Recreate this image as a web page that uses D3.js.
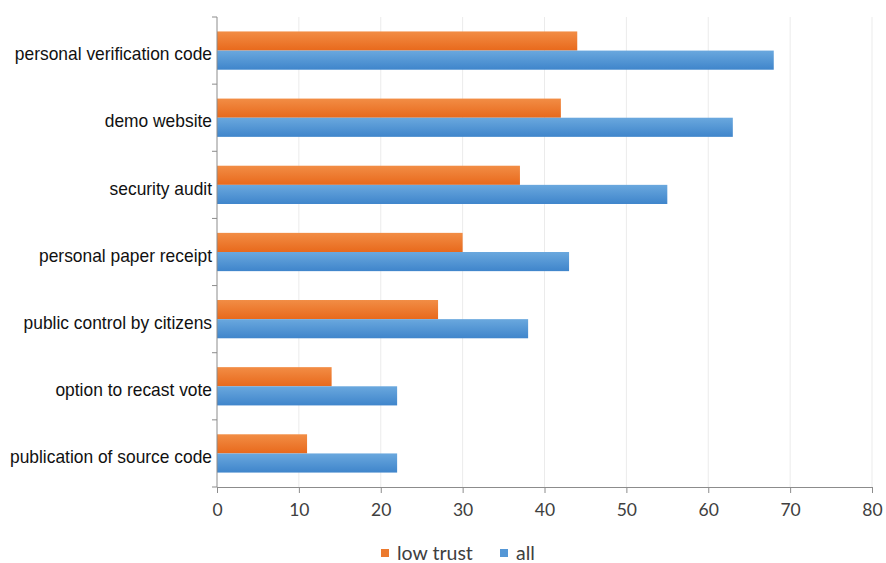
<!DOCTYPE html>
<html>
<head>
<meta charset="utf-8">
<script src="https://cdn.jsdelivr.net/npm/d3@7"></script>
<style>
  html, body { margin: 0; padding: 0; background: #fff; }
  svg { display: block; }
</style>
</head>
<body>
<svg id="chart" width="886" height="563"></svg>
<script>
// Survey measures, listed top to bottom
const categories = [
  "personal verification code",
  "demo website",
  "security audit",
  "personal paper receipt",
  "public control by citizens",
  "option to recast vote",
  "publication of source code"
];
const lowTrust = [44, 42, 37, 30, 27, 14, 11];
const allRespondents = [68, 63, 55, 43, 38, 22, 22];
const xTicks = [0, 10, 20, 30, 40, 50, 60, 70, 80];
const seriesNames = ["low trust", "all"];

const svg = d3.select("#chart");
const margin = { left: 217, right: 14, top: 17, bottom: 76 };
const W = 886, H = 563;
const innerW = W - margin.left - margin.right;
const innerH = H - margin.top - margin.bottom;

const defs = svg.append("defs");
function grad(id, top, bottom) {
  const g = defs.append("linearGradient").attr("id", id)
    .attr("x1", 0).attr("y1", 0).attr("x2", 0).attr("y2", 1);
  g.append("stop").attr("offset", "0%").attr("stop-color", top);
  g.append("stop").attr("offset", "100%").attr("stop-color", bottom);
}
grad("gOrange", "#f28d45", "#e8691c");
grad("gBlue", "#6aa8de", "#3f85cb");

const x = d3.scaleLinear().domain([0, 80]).range([0, innerW]);
const y = d3.scaleBand().domain(categories).range([0, innerH]).paddingInner(0.43).paddingOuter(0.215);
const sub = d3.scaleBand().domain(seriesNames).range([0, y.bandwidth()]);

const g = svg.append("g").attr("transform", `translate(${margin.left},${margin.top})`);

// vertical gridlines
g.selectAll("line.grid").data(xTicks.slice(1)).join("line")
  .attr("class", "grid")
  .attr("x1", d => x(d)).attr("x2", d => x(d))
  .attr("y1", 0).attr("y2", innerH)
  .attr("stroke", "#ebebeb").attr("stroke-width", 1);

// bars
const rows = categories.map((c, i) => ({ c, vals: [lowTrust[i], allRespondents[i]] }));
const row = g.selectAll("g.row").data(rows).join("g")
  .attr("transform", d => `translate(0,${y(d.c)})`);
row.selectAll("rect").data(d => d.vals.map((v, j) => ({ v, s: seriesNames[j] }))).join("rect")
  .attr("x", 0)
  .attr("y", d => sub(d.s))
  .attr("width", d => x(d.v))
  .attr("height", sub.bandwidth())
  .attr("fill", d => d.s === "low trust" ? "url(#gOrange)" : "url(#gBlue)");

// x axis
const xAxis = g.append("g").attr("transform", `translate(0,${innerH})`)
  .call(d3.axisBottom(x).tickValues(xTicks).tickSize(6).tickPadding(11));
xAxis.select(".domain").attr("stroke", "#8c8c8c");
xAxis.selectAll(".tick line").attr("stroke", "#8c8c8c");
xAxis.selectAll("text").attr("font-family", "Lato, 'Open Sans', sans-serif")
  .attr("font-size", 17.5).attr("fill", "#404040");

// y axis with boundary ticks between categories
const yAxisG = g.append("g");
yAxisG.append("line").attr("x1", 0).attr("x2", 0).attr("y1", 0).attr("y2", innerH)
  .attr("stroke", "#8c8c8c");
const bounds = d3.range(categories.length + 1).map(i => i * innerH / categories.length);
yAxisG.selectAll("line.bt").data(bounds).join("line")
  .attr("class", "bt")
  .attr("x1", -5).attr("x2", 0).attr("y1", d => d).attr("y2", d => d)
  .attr("stroke", "#8c8c8c");
// category labels: tall, slightly condensed sans
yAxisG.selectAll("text").data(categories).join("text")
  .attr("x", -5)
  .attr("y", d => y(d) + y.bandwidth() / 2 + 3)
  .attr("dy", "0.35em")
  .attr("text-anchor", "end")
  .attr("font-family", "'Liberation Sans', Arial, sans-serif")
  .attr("font-size", 19)
  .attr("fill", "#111")
  .text(d => d)
  .each(function () {
    const w = this.getComputedTextLength();
    d3.select(this).attr("textLength", w * 0.915).attr("lengthAdjust", "spacingAndGlyphs");
  });

// legend
const legend = svg.append("g").attr("transform", "translate(381,553)");
const items = [
  { name: seriesNames[0], color: "#ec7a2e", x: 0 },
  { name: seriesNames[1], color: "#5597d6", x: 119 }
];
const li = legend.selectAll("g").data(items).join("g")
  .attr("transform", d => `translate(${d.x},0)`);
li.append("rect").attr("x", 0).attr("y", -4).attr("width", 8).attr("height", 8)
  .attr("fill", d => d.color);
li.append("text").attr("x", 16).attr("y", 0).attr("dy", "0.35em")
  .attr("font-family", "Lato, 'Open Sans', sans-serif")
  .attr("font-size", 19.5).attr("fill", "#404040")
  .text(d => d.name);
</script>
</body>
</html>
